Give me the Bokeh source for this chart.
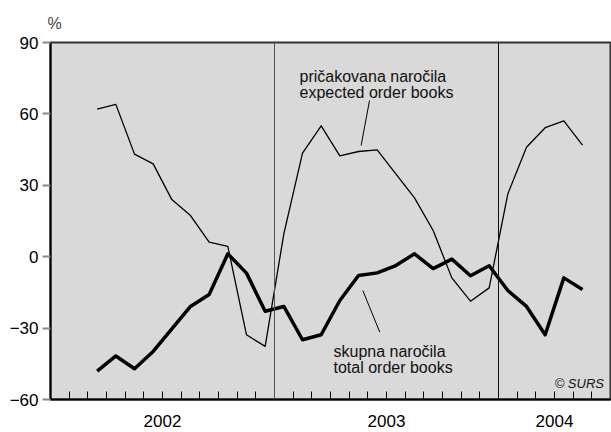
from bokeh.plotting import figure
from bokeh.models import FixedTicker, Span, Label, Range1d
from bokeh.embed import file_html
from bokeh.resources import INLINE

# months from March 2002 to May 2004 (index from Jan 2002)
month_index = list(range(2, 29))
expected = [62.0, 64.0, 43.1, 39.0, 24.0, 17.3, 6.1, 4.3, -32.8, -37.7,
            9.6, 43.5, 55.0, 42.4, 44.2, 44.9, 34.8, 24.7, 11.0, -8.9, -18.7, -13.1,
            26.4, 46.0, 54.2, 57.1, 46.9]
total = [-48.1, -41.7, -47.1, -39.8, -30.3, -20.9, -15.9, 1.2, -6.9, -22.9,
         -20.9, -34.9, -32.8, -18.4, -7.9, -6.8, -3.7, 1.2, -5.0, -1.0, -8.0, -3.8,
         -14.2, -20.9, -32.8, -8.9, -13.8]
y_ticks = [-60, -30, 0, 30, 60, 90]
year_labels = {6: "2002", 18: "2003", 27: "2004"}
year_bounds = [12, 24]

FONT = "Liberation Sans"

x = [m + 0.5 for m in month_index]

p = figure(width=611, height=432, frame_width=560, frame_height=357,
           min_border_left=50, min_border_right=1, min_border_top=42, min_border_bottom=33,
           x_range=Range1d(0, 30), y_range=Range1d(-60, 90),
           output_backend="svg", toolbar_location=None, title="%")

p.background_fill_color = "#d9d9d9"
p.border_fill_color = "white"
p.outline_line_color = "#333333"
p.outline_line_width = 2
p.xgrid.visible = False
p.ygrid.visible = False

p.title.text_font = FONT
p.title.text_font_size = "16px"
p.title.text_font_style = "normal"
p.title.align = "left"
p.title.offset = -3
p.title.standoff = 22

# y axis
p.yaxis.ticker = FixedTicker(ticks=y_ticks, minor_ticks=[])
p.yaxis.axis_line_color = "black"
p.yaxis.axis_line_width = 2
p.yaxis.major_tick_in = 0
p.yaxis.major_tick_out = 8
p.yaxis.major_tick_line_color = "#888888"
p.yaxis.major_tick_line_width = 2
p.yaxis.major_label_text_font = FONT
p.yaxis.major_label_text_font_size = "17px"
p.yaxis.major_label_text_color = "black"
p.yaxis.major_label_standoff = 4

# x axis
p.xaxis.ticker = FixedTicker(ticks=list(year_labels.keys()), minor_ticks=list(range(1, 30)))
p.xaxis.major_label_overrides = year_labels
p.xaxis.major_tick_line_color = None
p.xaxis.minor_tick_in = 8
p.xaxis.minor_tick_out = 0
p.xaxis.minor_tick_line_color = "black"
p.xaxis.minor_tick_line_width = 1
p.xaxis.axis_line_color = "black"
p.xaxis.axis_line_width = 2
p.xaxis.major_label_text_font = FONT
p.xaxis.major_label_text_font_size = "17px"
p.xaxis.major_label_text_color = "black"
p.xaxis.major_label_standoff = 9

for b, c in zip(year_bounds, ["#555555", "#111111"]):
    p.add_layout(Span(location=b, dimension="height", line_color=c, line_width=1))

p.line(x, expected, line_color="black", line_width=1.3, line_join="round")
p.line(x, total, line_color="black", line_width=3.5, line_join="round")

# leader lines for annotations
p.line([17.09, 16.64], [65.6, 46.7], line_color="black", line_width=1)
p.line([16.73, 17.64], [-14.2, -31.7], line_color="black", line_width=1)

def lab(xv, yv, t, size="16px", style="normal", align="left"):
    p.add_layout(Label(x=xv, y=yv, text=t, text_font=FONT, text_font_size=size,
                       text_font_style=style, text_align=align,
                       text_baseline="alphabetic", text_color="#111111"))

lab(13.34, 75.7, "pričakovana naročila")
lab(13.34, 69.0, "expected order books")
lab(15.16, -39.7, "skupna naročila")
lab(15.16, -46.4, "total order books")
lab(29.65, -53.1, "© SURS", size="13px", style="italic", align="right")

open("out.html", "w").write(file_html(p, INLINE))
